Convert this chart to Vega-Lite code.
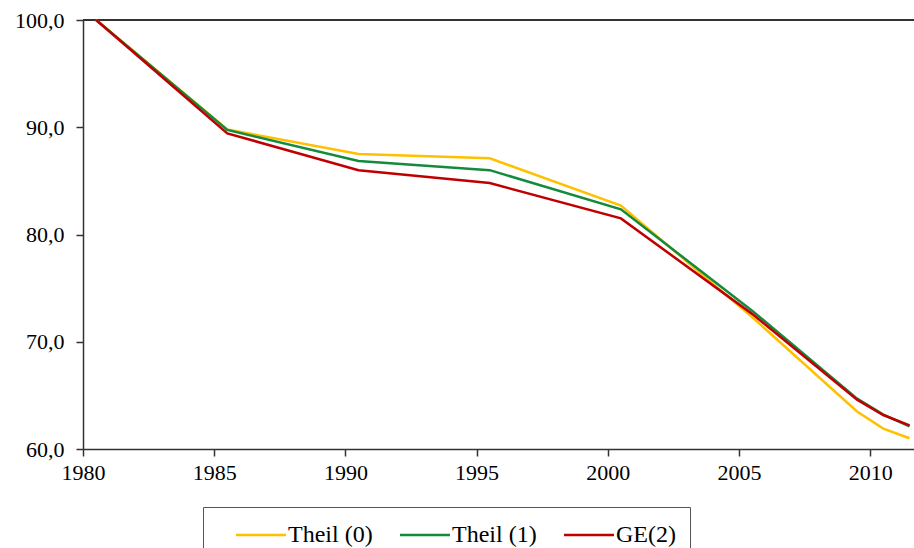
{
  "$schema": "https://vega.github.io/schema/vega-lite/v6.json",
  "autosize": "none",
  "padding": {"left": 83, "top": 20, "right": 0, "bottom": 99},
  "width": 831,
  "height": 429,
  "background": "white",
  "config": {
    "view": {"stroke": null},
    "font": "Liberation Serif"
  },
  "data": {
    "values": [
      {"year": 1980, "series": "Theil (0)", "value": 100.0},
      {"year": 1985, "series": "Theil (0)", "value": 89.8},
      {"year": 1990, "series": "Theil (0)", "value": 87.5},
      {"year": 1995, "series": "Theil (0)", "value": 87.1},
      {"year": 2000, "series": "Theil (0)", "value": 82.7},
      {"year": 2005, "series": "Theil (0)", "value": 72.3},
      {"year": 2009, "series": "Theil (0)", "value": 63.5},
      {"year": 2010, "series": "Theil (0)", "value": 61.9},
      {"year": 2011, "series": "Theil (0)", "value": 61.0},
      {"year": 1980, "series": "Theil (1)", "value": 100.0},
      {"year": 1985, "series": "Theil (1)", "value": 89.75},
      {"year": 1990, "series": "Theil (1)", "value": 86.85},
      {"year": 1995, "series": "Theil (1)", "value": 86.0},
      {"year": 2000, "series": "Theil (1)", "value": 82.35},
      {"year": 2005, "series": "Theil (1)", "value": 72.9},
      {"year": 2009, "series": "Theil (1)", "value": 64.7},
      {"year": 2010, "series": "Theil (1)", "value": 63.2},
      {"year": 2011, "series": "Theil (1)", "value": 62.1},
      {"year": 1980, "series": "GE(2)", "value": 100.0},
      {"year": 1985, "series": "GE(2)", "value": 89.43},
      {"year": 1990, "series": "GE(2)", "value": 86.0},
      {"year": 1995, "series": "GE(2)", "value": 84.8},
      {"year": 2000, "series": "GE(2)", "value": 81.5},
      {"year": 2005, "series": "GE(2)", "value": 72.6},
      {"year": 2009, "series": "GE(2)", "value": 64.6},
      {"year": 2010, "series": "GE(2)", "value": 63.17},
      {"year": 2011, "series": "GE(2)", "value": 62.2}
    ]
  },
  "layer": [
    {
      "mark": {"type": "rule", "color": "#333333", "strokeWidth": 1.5},
      "encoding": {"y": {"datum": 100, "type": "quantitative"}}
    },
    {
      "mark": {"type": "line", "strokeWidth": 2.5},
      "encoding": {
        "x": {
          "field": "year",
          "type": "quantitative",
          "scale": {"domain": [1979.5, 2011.17], "nice": false, "zero": false},
          "axis": {
            "title": null,
            "grid": false,
            "values": [1979.5, 1984.5, 1989.5, 1994.5, 1999.5, 2004.5, 2009.5],
            "labelExpr": "format(datum.value + 0.5, 'd')",
            "labelDx": 13,
            "labelFont": "Liberation Serif",
            "labelFontSize": 22,
            "labelColor": "#000000",
            "labelPadding": 6,
            "tickSize": 7,
            "tickColor": "#333333",
            "tickWidth": 1.5,
            "domainColor": "#333333",
            "domainWidth": 1.5,
            "labelFlush": false,
            "labelOverlap": false
          }
        },
        "y": {
          "field": "value",
          "type": "quantitative",
          "scale": {"domain": [60, 100], "nice": false, "zero": false},
          "axis": {
            "title": null,
            "grid": false,
            "values": [60, 70, 80, 90, 100],
            "labelExpr": "replace(format(datum.value, '.1f'), '.', ',')",
            "labelFont": "Liberation Serif",
            "labelFontSize": 22,
            "labelColor": "#000000",
            "labelPadding": 12,
            "tickSize": 7,
            "tickColor": "#333333",
            "tickWidth": 1.5,
            "domainColor": "#333333",
            "domainWidth": 1.5,
            "labelFlush": false,
            "labelOverlap": false
          }
        },
        "color": {
          "field": "series",
          "type": "nominal",
          "sort": ["Theil (0)", "Theil (1)", "GE(2)"],
          "scale": {
            "domain": ["Theil (0)", "Theil (1)", "GE(2)"],
            "range": ["#FFC000", "#138A3C", "#C00000"]
          },
          "legend": {
            "title": null,
            "orient": "none",
            "direction": "horizontal",
            "legendX": 120,
            "legendY": 487,
            "strokeColor": "#555555",
            "padding": 14,
            "symbolType": "M-2,0H2",
            "symbolSize": 625,
            "symbolStrokeWidth": 2.5,
            "symbolOffset": 30,
            "labelFont": "Liberation Serif",
            "labelFontSize": 24,
            "labelColor": "#000000",
            "labelOffset": 13,
            "columnPadding": 8
          }
        },
        "order": {"field": "series"}
      }
    }
  ]
}
